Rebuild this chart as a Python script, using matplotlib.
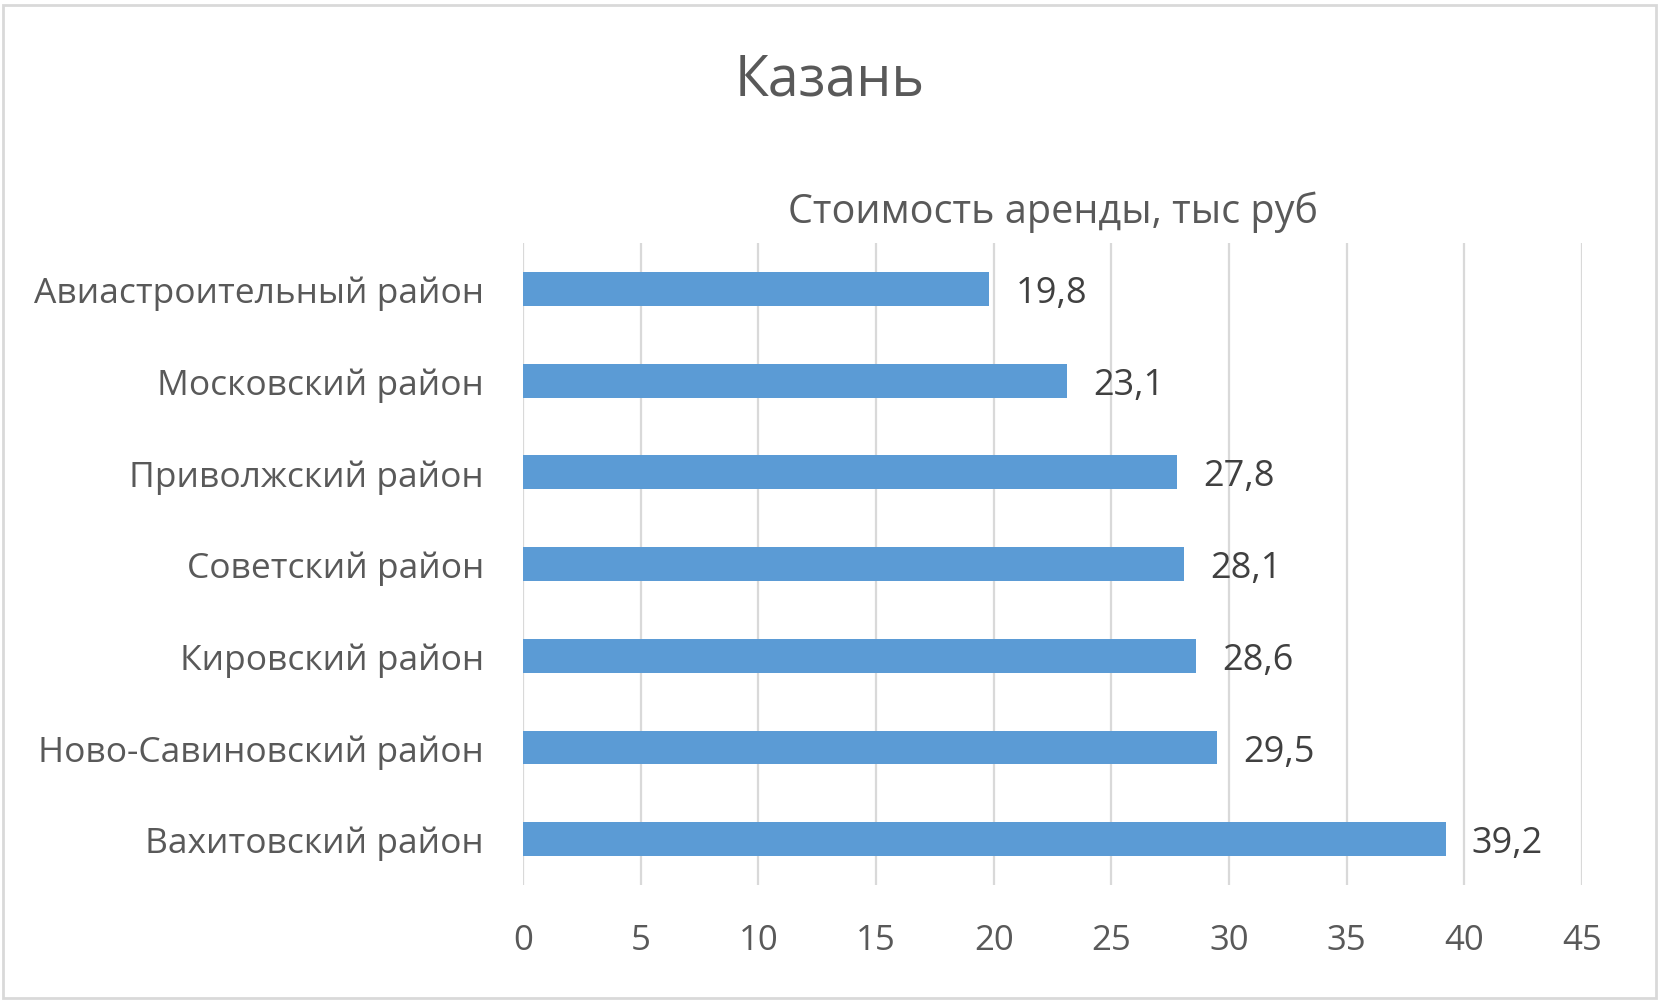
import matplotlib.pyplot as plt
from matplotlib.patches import Rectangle

plt.rcParams['font.family'] = ['Open Sans', 'DejaVu Sans']

# Data
districts = ['Авиастроительный район', 'Московский район', 'Приволжский район',
             'Советский район', 'Кировский район', 'Ново-Савиновский район',
             'Вахитовский район']
rent = [19.8, 23.1, 27.8, 28.1, 28.6, 29.5, 39.2]
x_ticks = [0, 5, 10, 15, 20, 25, 30, 35, 40, 45]

bar_color = '#5B9BD5'
text_color = '#595959'
grid_color = '#D9D9D9'

fig = plt.figure(figsize=(16.63, 10.03), dpi=100)
ax = fig.add_axes([0.3145, 0.1166, 0.6368, 0.6401])

ax.barh(range(len(districts)), rent, height=0.37, color=bar_color)
ax.set_ylim(-0.5, len(districts) - 0.5)
ax.invert_yaxis()
ax.set_xlim(0, 45)
ax.set_xticks(x_ticks)
ax.set_yticks(range(len(districts)))
ax.set_yticklabels(districts)

ax.grid(axis='x', color=grid_color, linewidth=1.6)
ax.set_axisbelow(True)
for s in ax.spines.values():
    s.set_visible(False)
ax.tick_params(axis='x', length=0, pad=27, labelsize=25, labelcolor=text_color)
ax.tick_params(axis='y', length=0, pad=28, labelsize=25.5, labelcolor=text_color)

# Data labels
for i, v in enumerate(rent):
    ax.annotate(f'{v:.1f}'.replace('.', ','), xy=(v, i), xytext=(19, -3),
                textcoords='offset points', va='center', ha='left',
                fontsize=26, color='#404040')

ax.set_title('Стоимость аренды, тыс руб', fontsize=28.5, color=text_color, pad=15)
fig.text(0.499, 0.919, 'Казань', ha='center', va='center', fontsize=40, color=text_color)

# Chart border
fig.patches.append(Rectangle((0.002, 0.004), 0.994, 0.99, transform=fig.transFigure,
                             fill=False, edgecolor=grid_color, linewidth=2))

fig.savefig('out.png', dpi=100)
